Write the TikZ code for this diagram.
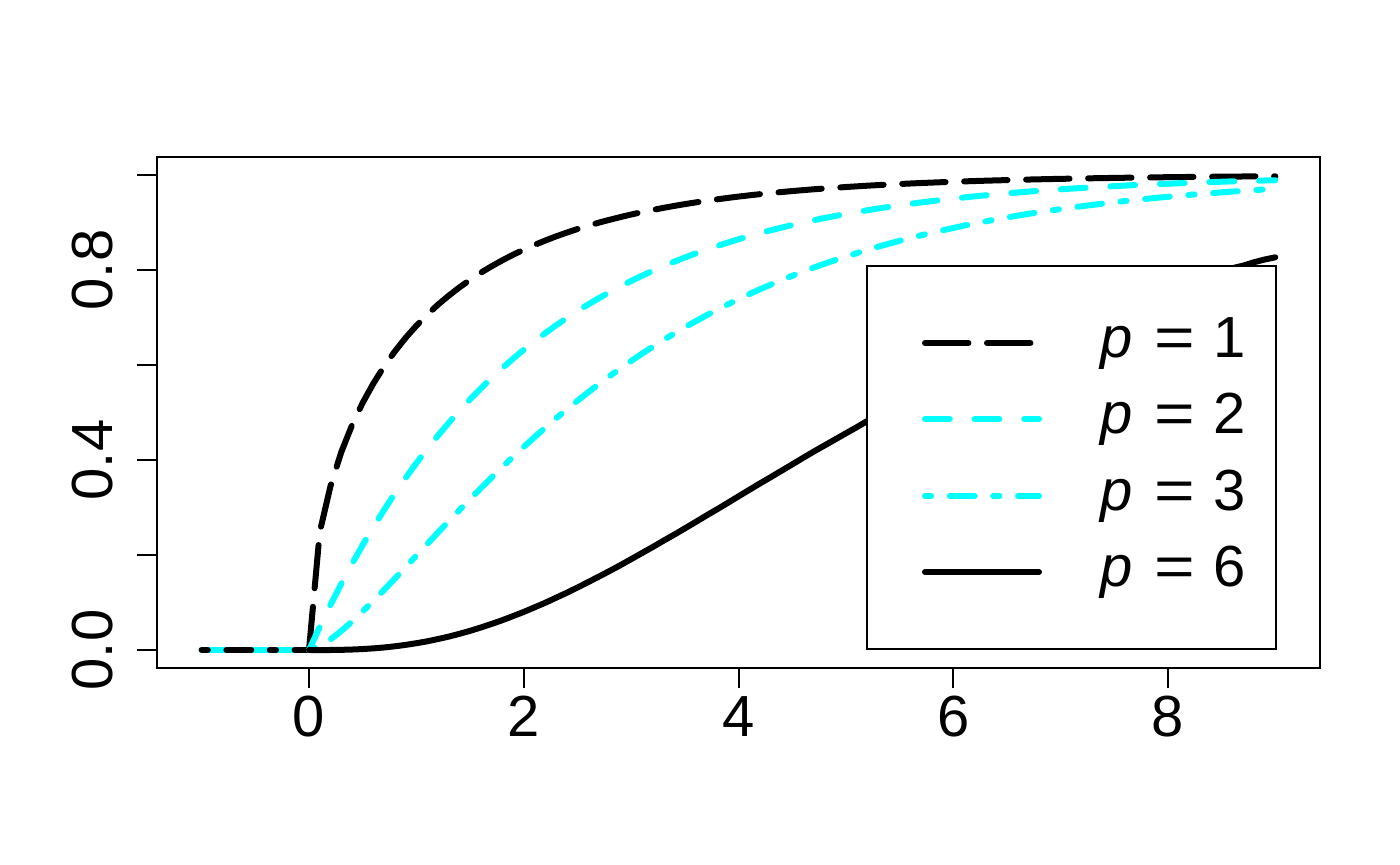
\documentclass[tikz,border=0pt]{standalone}
\usepackage{fontspec}
\setmainfont{Liberation Sans}
\definecolor{rcyan}{RGB}{0,255,255}

\tikzset{
  declare function={
    tt(\z)=1/(1+0.3275911*\z);
    erfz(\z)=1-(tt(\z)*(0.254829592+tt(\z)*(-0.284496736+tt(\z)*(1.421413741+tt(\z)*(-1.453152027+1.061405429*tt(\z))))))*exp(-(\z)*(\z));
    chiA(\x)=erfz(sqrt(max(\x,0)/2));
    chiB(\x)=1-exp(-max(\x,0)/2);
    chiC(\x)=erfz(sqrt(max(\x,0)/2))-sqrt(2*max(\x,0)/pi)*exp(-max(\x,0)/2);
    chiF(\x)=1-exp(-max(\x,0)/2)*(1+max(\x,0)/2+max(\x,0)*max(\x,0)/8);
  },
  cdfline/.style={line width=3pt, line cap=round, line join=round},
  longdash/.style={dash pattern=on 21.7pt off 9.3pt},
  shortdash/.style={dash pattern=on 12.4pt off 12.4pt},
  dotdash/.style={dash pattern=on 3.1pt off 9.3pt on 12.4pt off 9.3pt},
  ticklabel/.style={font=\fontsize{29}{34}\selectfont, inner sep=0pt},
  framebox/.style={line width=1pt},
}

\begin{document}
\begin{tikzpicture}[x=0.5pt,y=0.5pt]
\useasboundingbox (0,0) rectangle (1400,865);
\draw[framebox] (157,197) rectangle (1320,708);
% x axis
\foreach \t in {0,2,...,8}{
  \coordinate (xt\t) at ({309+107.375*\t},197);
  \draw[framebox] (xt\t) -- ++(0,-20);
  \node[ticklabel, anchor=base] (xl\t) at ({309+107.375*\t},128) {\t};
}
% y axis
\foreach \i in {0,...,5}{
  \coordinate (yt\i) at (157,{215+95*\i});
  \draw[framebox] (yt\i) -- ++(-20,0);
}
\foreach \i/\lab in {0/0.0,2/0.4,4/0.8}
  \node[ticklabel, rotate=90, anchor=base] (yl\i) at (112,{215+95*\i}) {\lab};
% curves
\begin{scope}[shift={(309,215)},x=53.6875pt,y=237.5pt]
  \coordinate (z-left) at (-1,0);
  \coordinate (z-zero) at (0,0);
  \draw[cdfline, rcyan] (z-left) -- (z-zero);
  \draw[cdfline, dotdash] (z-left) -- (z-zero);
  \draw[cdfline, longdash] plot[domain=0:9, samples=91] (\x,{chiA(\x)});
  \draw[cdfline, shortdash, rcyan] plot[domain=0:9, samples=91] (\x,{chiB(\x)});
  \draw[cdfline, dotdash, rcyan] plot[domain=0:9, samples=91] (\x,{chiC(\x)});
  \draw[cdfline] plot[domain=0:9, samples=91] (\x,{chiF(\x)});
\end{scope}
% legend
\draw[framebox, fill=white] (867,216) rectangle (1276,599);
\foreach \k/\p/\sty/\col/\Y in {1/1/longdash/black/522, 2/2/shortdash/rcyan/446, 3/3/dotdash/rcyan/369, 4/6/solid/black/293}{
  \coordinate (leg\k-a) at (925,\Y);
  \coordinate (leg\k-b) at (1039,\Y);
  \draw[cdfline, \sty, \col] (leg\k-a) -- (leg\k-b);
  \node[ticklabel, anchor=base west] (legtext\k) at (1100,\Y-15) {\textit{p}\hspace{11pt}\scalebox{1.2}[1]{=}\hspace{9pt}\p};
}
\end{tikzpicture}
\end{document}
